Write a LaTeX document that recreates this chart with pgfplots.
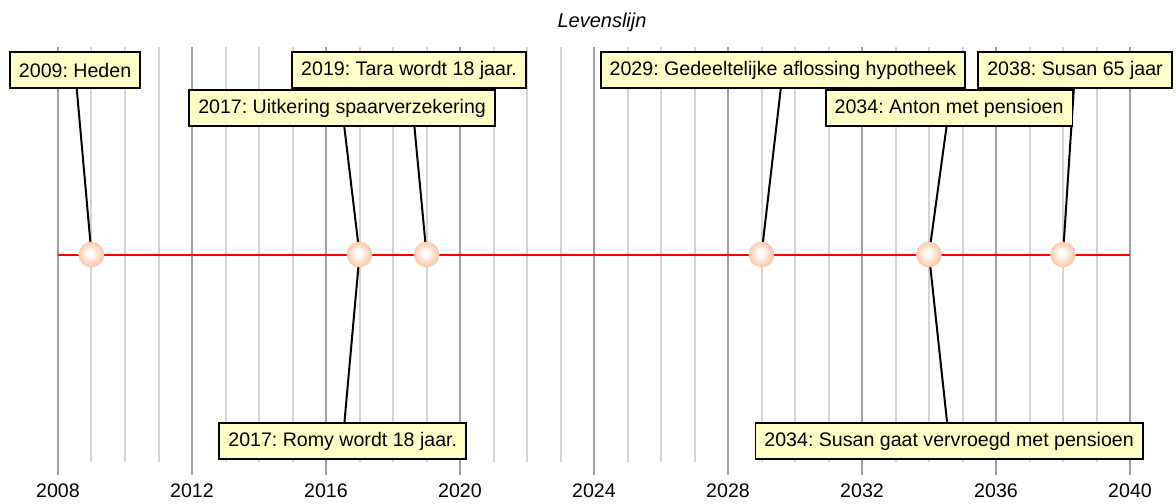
\documentclass[border=0pt]{standalone}
\usepackage{pgfplots}
\pgfplotsset{compat=1.18}
\usepackage{pgfplotstable}
\usepackage{fontspec}
\setmainfont{Liberation Sans}
\frenchspacing
\definecolor{boxfill}{RGB}{255,255,200}
\definecolor{peach}{RGB}{250,198,166}
\definecolor{majgrid}{RGB}{160,160,160}
\definecolor{mingrid}{RGB}{212,212,212}
\pgfdeclareradialshading{peachshade}{\pgfpoint{-3bp}{3bp}}{color(0bp)=(white); color(4bp)=(white); color(25bp)=(peach); color(50bp)=(peach)}
\pgfdeclareplotmark{peachball}{\pgfpathcircle{\pgfpointorigin}{\pgfplotmarksize}\pgfshadepath{peachshade}{0}\pgfusepath{discard}}

\pgfplotstableread[col sep=comma]{
x,y,label
2008.51,0.889,2009: Heden
2016.48,0.706,2017: Uitkering spaarverzekering
2018.48,0.889,2019: Tara wordt 18 jaar.
2029.64,0.889,2029: Gedeeltelijke aflossing hypotheek
2034.60,0.706,2034: Anton met pensioen
2038.36,0.889,2038: Susan 65 jaar
2016.50,-0.899,2017: Romy wordt 18 jaar.
2034.60,-0.899,2034: Susan gaat vervroegd met pensioen
}\labeltable

\pgfplotstableread[col sep=comma]{
x,y
2009,0
2017,0
2019,0
2029,0
2034,0
2038,0
}\eventtable

\begin{document}
\begin{tikzpicture}[font=\fontsize{9.8}{11}\selectfont]
\begin{axis}[
  at={(0,0)}, anchor=south west,
  scale only axis,
  width=536pt, height=207.5pt,
  xmin=2008, xmax=2040, ymin=-1, ymax=1,
  clip=false,
  axis line style={draw=none},
  ytick=\empty,
  xtick={2008,2012,...,2040},
  minor xtick={2009,2010,2011,2013,2014,2015,2017,2018,2019,2021,2022,2023,2025,2026,2027,2029,2030,2031,2033,2034,2035,2037,2038,2039},
  xtick pos=bottom,
  tick align=outside,
  major tick length=6.5pt,
  minor tick length=0pt,
  major tick style={majgrid, line width=1pt},
  minor tick style={draw=none},
  xmajorgrids, xminorgrids,
  major grid style={majgrid, line width=1pt},
  minor grid style={mingrid, line width=1pt},
  xticklabel style={font=\fontsize{9.8}{11}\selectfont, /pgf/number format/1000 sep={}, /pgf/number format/assume math mode=true, yshift=-1pt},
  title={\itshape Levenslijn},
  title style={at={(axis description cs:0.5,1)}, anchor=base, yshift=3.5pt, xshift=4pt, inner sep=0pt, font=\fontsize{10}{11}\selectfont},
]
\addplot[red, line width=1pt] coordinates {(2008,0) (2040,0)};
% connectors
\addplot[black, line width=1pt] coordinates {(2009,0) (2008.51,0.889)};
\addplot[black, line width=1pt] coordinates {(2017,0) (2016.48,0.706)};
\addplot[black, line width=1pt] coordinates {(2019,0) (2018.48,0.889)};
\addplot[black, line width=1pt] coordinates {(2029,0) (2029.64,0.889)};
\addplot[black, line width=1pt] coordinates {(2034,0) (2034.60,0.706)};
\addplot[black, line width=1pt] coordinates {(2038,0) (2038.36,0.889)};
\addplot[black, line width=1pt] coordinates {(2017,0) (2016.50,-0.899)};
\addplot[black, line width=1pt] coordinates {(2034,0) (2034.60,-0.899)};
% event markers
\addplot[only marks, mark=peachball, mark size=6.4pt] table[x=x, y=y] {\eventtable};
% labels
\addplot[draw=none, mark=none,
  nodes near coords, point meta=explicit symbolic,
  nodes near coords style={anchor=center, draw=black, line width=0.9pt, fill=boxfill,
    inner xsep=4.5pt, inner ysep=0pt, minimum height=18pt, text=black,
    font=\fontsize{9.8}{11}\selectfont}]
  table[x=x, y=y, meta=label] {\labeltable};
\end{axis}
\pgfresetboundingbox
\path[use as bounding box] (-29pt,-20.5pt) rectangle (559pt,231pt);
\end{tikzpicture}
\end{document}
